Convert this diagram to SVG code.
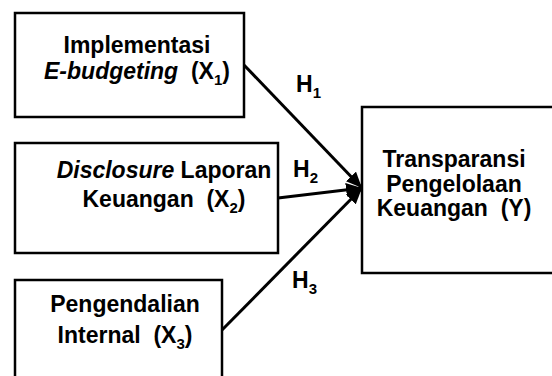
<svg xmlns="http://www.w3.org/2000/svg" width="552" height="376" viewBox="0 0 552 376">
<style>
.box{fill:#fff;stroke:#000;stroke-width:2.5}
.t{font-family:"Liberation Sans",Arial,sans-serif;font-weight:bold;font-size:23px;fill:#000;text-anchor:middle;white-space:pre}
.h{font-family:"Liberation Sans",Arial,sans-serif;font-weight:bold;font-size:23px;fill:#000}
.sub{font-size:15px}
.c{stroke:#000;stroke-width:3;fill:none}
</style>
<defs>
<marker id="ah" markerUnits="userSpaceOnUse" markerWidth="18" markerHeight="14" refX="16" refY="7" orient="auto">
<path d="M0,0 L16,7 L0,14 Z" fill="#000"/>
</marker>
</defs>
<rect width="552" height="376" fill="#fff"/>
<g id="x1">
<rect class="box" x="15" y="13" width="229" height="104"/>
<text class="t" x="137" y="53">Implementasi</text>
<text class="t" x="137" y="79" xml:space="preserve"><tspan font-style="italic">E-budgeting</tspan>  (X<tspan class="sub" dy="6">1</tspan><tspan dy="-6">)</tspan></text>
</g>
<g id="x2">
<rect class="box" x="15" y="143" width="263" height="110"/>
<text class="t" x="164" y="178" xml:space="preserve"><tspan font-style="italic">Disclosure</tspan> Laporan</text>
<text class="t" x="164" y="207" xml:space="preserve">Keuangan  (X<tspan class="sub" dy="6">2</tspan><tspan dy="-6">)</tspan></text>
</g>
<g id="x3">
<rect class="box" x="15" y="280" width="207" height="110"/>
<text class="t" x="125" y="312">Pengendalian</text>
<text class="t" x="125" y="343" xml:space="preserve">Internal  (X<tspan class="sub" dy="6">3</tspan><tspan dy="-6">)</tspan></text>
</g>
<g id="y">
<rect class="box" x="362" y="107" width="200" height="166"/>
<text class="t" x="454" y="167">Transparansi</text>
<text class="t" x="454" y="192">Pengelolaan</text>
<text class="t" x="454" y="216" xml:space="preserve">Keuangan  (Y)</text>
</g>
<g id="connectors">
<line class="c" x1="244" y1="65" x2="362" y2="188" marker-end="url(#ah)"/>
<line class="c" x1="278" y1="198" x2="362" y2="188" marker-end="url(#ah)"/>
<line class="c" x1="222" y1="330" x2="362" y2="188" marker-end="url(#ah)"/>
<text class="h" x="296" y="92">H<tspan class="sub" dy="6">1</tspan></text>
<text class="h" x="293" y="177">H<tspan class="sub" dy="6">2</tspan></text>
<text class="h" x="292" y="288">H<tspan class="sub" dy="6">3</tspan></text>
</g>
</svg>
